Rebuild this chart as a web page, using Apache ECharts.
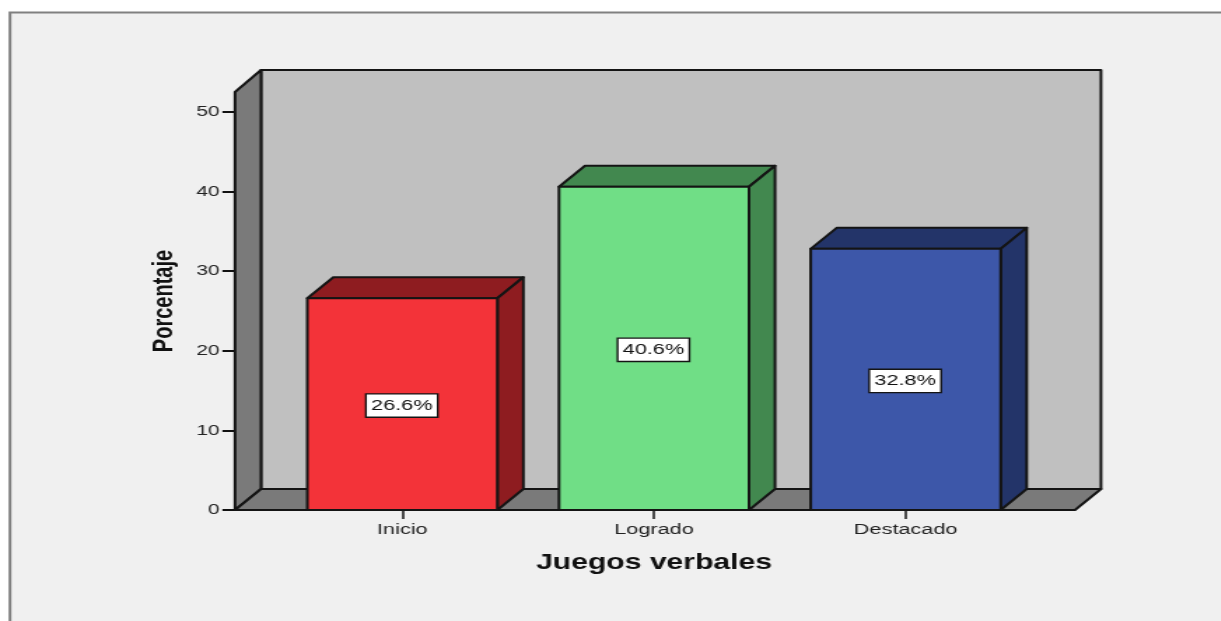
<!DOCTYPE html>
<html>
<head>
<meta charset="utf-8">
<style>
html,body{margin:0;padding:0;background:#fff;overflow:hidden}
#chart{position:absolute;left:0;top:0;width:872.14px;height:621px;transform-origin:0 0;transform:scaleX(1.4)}
</style>
<script src="https://cdn.jsdelivr.net/npm/echarts@6/dist/echarts.min.js"></script>
</head>
<body>
<div id="chart"></div>
<script>
const categories = ['Inicio', 'Logrado', 'Destacado'];
const percentages = [26.6, 40.6, 32.8];
const valueTicks = [0, 10, 20, 30, 40, 50];
const frontColors = ['#F33339', '#70DE86', '#3D57A9'];
const sideColors = ['#8E1C20', '#42884F', '#233469'];
const xTitle = 'Juegos verbales';
const yTitle = 'Porcentaje';

const S = 1.4;                 // the whole picture is stretched horizontally
const px = v => v / S;
const LINE = '#141414';
const DX = px(26), DY = 21;    // 3D depth
const WALL_L = px(41.5), WALL_R = px(43.5);
const FONT = 'Liberation Sans, Arial, sans-serif';

function renderBox(params, api) {
  const cs = params.coordSys;
  const l = cs.x - WALL_L, r = cs.x + cs.width + WALL_R, t = cs.y, b = cs.y + cs.height;
  const poly = (points, fill) => ({
    type: 'polygon', shape: { points },
    style: { fill, stroke: LINE, lineWidth: 2, lineJoin: 'round' }
  });
  return {
    type: 'group',
    children: [
      poly([[l + DX, t - DY - 1], [r + DX, t - DY - 1], [r + DX, b - DY], [l + DX, b - DY]], '#C0C0C0'),
      poly([[l, t], [l + DX, t - DY - 1], [l + DX, b - DY], [l, b]], '#7A7A7A'),
      poly([[l, b], [l + DX, b - DY], [r + DX, b - DY], [r, b]], '#7A7A7A')
    ]
  };
}

function renderBar(params, api) {
  const i = api.value(0), v = api.value(1);
  const top = api.coord([i, v]), base = api.coord([i, 0]), mid = api.coord([i, v / 2]);
  const half = api.size([1, 0])[0] * 0.755 / 2;
  const l = top[0] - half, r = top[0] + half;
  const style = fill => ({ fill, stroke: LINE, lineWidth: 2, lineJoin: 'round' });
  return {
    type: 'group',
    children: [
      { type: 'polygon', shape: { points: [[l, top[1]], [l + DX, top[1] - DY], [r + DX, top[1] - DY], [r, top[1]]] }, style: style(sideColors[i]) },
      { type: 'polygon', shape: { points: [[r, top[1]], [r + DX, top[1] - DY], [r + DX, base[1] - DY], [r, base[1]]] }, style: style(sideColors[i]) },
      { type: 'rect', shape: { x: l, y: top[1], width: r - l, height: base[1] - top[1] }, style: style(frontColors[i]) },
      {
        type: 'text', x: mid[0] - px(0.5), y: mid[1] + 1.5,
        style: {
          text: v.toFixed(1) + '%', x: 0, y: 0, align: 'center', verticalAlign: 'middle',
          fill: '#111', font: '15.5px ' + FONT,
          backgroundColor: '#fff', borderColor: LINE, borderWidth: 1.4, padding: [3, 3, 3, 3]
        }
      }
    ]
  };
}

const chart = echarts.init(document.getElementById('chart'), null, { renderer: 'canvas' });
chart.setOption({
  animation: false,
  backgroundColor: '#fff',
  graphic: [{
    type: 'rect', z: -10,
    shape: { x: px(10), y: 12.5, width: px(1300), height: 700 },
    style: { fill: '#F0F0F0', stroke: '#808080', lineWidth: 2 }
  }],
  grid: { left: px(276.5), width: px(755), top: 92, height: 418, containLabel: false },
  xAxis: {
    type: 'category', data: categories,
    axisLine: { show: false },
    axisTick: { show: true, alignWithLabel: true, length: 9, lineStyle: { color: '#222', width: 1.6 } },
    axisLabel: { color: '#222', fontFamily: FONT, fontSize: 15.5, margin: 12 },
    name: xTitle, nameLocation: 'middle', nameGap: 42,
    nameTextStyle: { color: '#111', fontFamily: FONT, fontWeight: 'bold', fontSize: 21.5 }
  },
  yAxis: {
    type: 'value', min: 0, max: 52.5, interval: 10,
    offset: WALL_L,
    splitLine: { show: false },
    axisLine: { show: false },
    axisTick: { show: true, length: 9, customValues: valueTicks, lineStyle: { color: '#111', width: 2 } },
    axisLabel: { color: '#222', fontFamily: FONT, fontSize: 15, margin: 11, padding: [4, 0, 0, 0], customValues: valueTicks },
    name: yTitle, nameLocation: 'middle', nameGap: 40,
    nameTextStyle: { color: '#111', fontFamily: FONT, fontWeight: 'bold', fontSize: 20 }
  },
  series: [
    { type: 'custom', silent: true, renderItem: renderBox, data: [[0, 0]], z: 1 },
    { type: 'custom', silent: true, renderItem: renderBar, z: 2,
      encode: { x: 0, y: 1 },
      data: percentages.map((v, i) => [i, v]) }
  ]
});
</script>
</body>
</html>
